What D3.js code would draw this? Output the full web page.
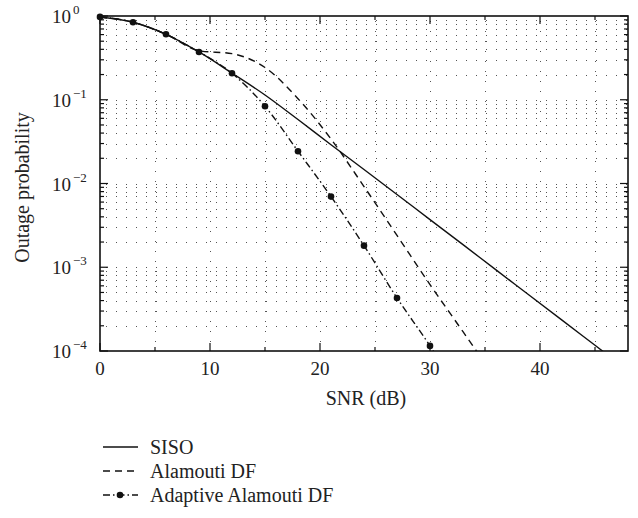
<!DOCTYPE html>
<html>
<head>
<meta charset="utf-8">
<script src="https://cdn.jsdelivr.net/npm/d3@7"></script>
<style>
  html, body { margin: 0; padding: 0; background: #fff; }
  svg { display: block; }
</style>
</head>
<body>
<svg id="chart" width="638" height="518"></svg>
<script>
// ---- data ----
const snrSISO = [0, 3, 6, 9, 12, 15, 18, 21, 24, 27, 30, 33, 36, 39, 42, 45, 48];
const siso = [0.975, 0.843, 0.605, 0.372, 0.208, 0.114, 0.058, 0.029, 0.0147, 0.0074, 0.0037, 0.00186, 0.00093, 0.000467, 0.000234, 0.000117, 0.0000585];

const snrAlamouti = [0, 3, 6, 9, 12, 15, 18, 21, 24, 27, 30, 33, 36];
const alamouti = [0.975, 0.843, 0.605, 0.385, 0.355, 0.243, 0.103, 0.034, 0.0092, 0.0024, 0.00062, 0.00017, 0.000046];

const snrAdaptive = [0, 3, 6, 9, 12, 15, 18, 21, 24, 27, 30, 33];
const adaptive = [0.975, 0.843, 0.605, 0.372, 0.207, 0.0835, 0.0243, 0.00698, 0.00181, 0.00043, 0.000115, 0.000027];

const xMajorTicks = [0, 10, 20, 30, 40];
const xMinorTicks = [5, 15, 25, 35, 45];
const yDecades = [1, 1e-1, 1e-2, 1e-3, 1e-4];
const yExponents = ["0", "\u22121", "\u22122", "\u22123", "\u22124"];
const legendLabels = ["SISO", "Alamouti DF", "Adaptive Alamouti DF"];

// ---- layout ----
const FONT = "'Liberation Serif', 'DejaVu Serif', serif";
const L = 100, R = 628, T = 16, B = 351;
const svg = d3.select("#chart").attr("font-family", FONT);
const x = d3.scaleLinear().domain([0, 48]).range([L, R]);
const y = d3.scaleLog().domain([1e-4, 1]).range([B, T]);

// minor y values
const yMinor = [];
for (let e = -4; e < 0; e++) for (let m = 2; m <= 9; m++) yMinor.push(m * Math.pow(10, e));

// grid
const grid = svg.append("g").attr("stroke", "#555").attr("stroke-width", 1)
  .attr("stroke-dasharray", "1,9");
grid.selectAll("line.h").data(yMinor.concat(yDecades.slice(1, 4))).join("line")
  .attr("x1", L + 6).attr("x2", R)
  .attr("y1", d => Math.round(y(d)) + 0.5).attr("y2", d => Math.round(y(d)) + 0.5);
grid.selectAll("line.v").data(xMajorTicks.concat(xMinorTicks).filter(d => d > 0)).join("line")
  .attr("y1", T + 5).attr("y2", B)
  .attr("x1", d => Math.round(x(d)) + 0.5).attr("x2", d => Math.round(x(d)) + 0.5);

// ticks (inward) on all four sides
const tk = svg.append("g").attr("stroke", "#111").attr("stroke-width", 1.2);
xMajorTicks.forEach(v => {
  const px = x(v);
  tk.append("line").attr("x1", px).attr("x2", px).attr("y1", B).attr("y2", B - 8);
  tk.append("line").attr("x1", px).attr("x2", px).attr("y1", T).attr("y2", T + 8);
});
xMinorTicks.forEach(v => {
  const px = x(v);
  tk.append("line").attr("x1", px).attr("x2", px).attr("y1", B).attr("y2", B - 4);
  tk.append("line").attr("x1", px).attr("x2", px).attr("y1", T).attr("y2", T + 4);
});
yDecades.forEach(v => {
  const py = y(v);
  tk.append("line").attr("x1", L).attr("x2", L + 8).attr("y1", py).attr("y2", py);
  tk.append("line").attr("x1", R).attr("x2", R - 8).attr("y1", py).attr("y2", py);
});
yMinor.forEach(v => {
  const py = y(v);
  tk.append("line").attr("x1", L).attr("x2", L + 4).attr("y1", py).attr("y2", py);
  tk.append("line").attr("x1", R).attr("x2", R - 4).attr("y1", py).attr("y2", py);
});

// frame
svg.append("rect").attr("x", L).attr("y", T).attr("width", R - L).attr("height", B - T)
  .attr("fill", "none").attr("stroke", "#111").attr("stroke-width", 1.6);

// tick labels
svg.append("g").selectAll("text").data(xMajorTicks).join("text")
  .attr("x", d => x(d)).attr("y", B + 24).attr("text-anchor", "middle")
  .attr("font-family", FONT).attr("fill", "#222").attr("font-size", 19).text(d => d);

const yl = svg.append("g").selectAll("text").data(yDecades).join("text")
  .attr("x", 52).attr("y", d => y(d) + 7).attr("font-family", FONT)
  .attr("fill", "#222").attr("font-size", 19);
yl.append("tspan").text("10");
yl.append("tspan").attr("dy", -9).attr("dx", 2).attr("font-size", 13).text((d, i) => yExponents[i]);

// axis titles
svg.append("text").attr("x", 366).attr("y", 405).attr("text-anchor", "middle")
  .attr("font-family", FONT).attr("fill", "#222").attr("font-size", 20).text("SNR (dB)");
svg.append("text").attr("transform", "translate(29," + ((T + B) / 2 + 4) + ") rotate(-90)")
  .attr("text-anchor", "middle").attr("font-family", FONT).attr("fill", "#222")
  .attr("font-size", 20).text("Outage probability");

// curves
svg.append("clipPath").attr("id", "clip").append("rect")
  .attr("x", L).attr("y", T - 1).attr("width", R - L).attr("height", B - T + 1);

const line = d3.line().x(d => x(d[0])).y(d => y(d[1])).curve(d3.curveMonotoneX);
const series = [
  { xs: snrSISO, ys: siso, dash: null, markers: false },
  { xs: snrAlamouti, ys: alamouti, dash: "7,5", markers: false },
  { xs: snrAdaptive, ys: adaptive, dash: "7,3,1.5,3", markers: true }
];
const plot = svg.append("g").attr("clip-path", "url(#clip)");
series.forEach(s => {
  const pts = s.xs.map((v, i) => [v, s.ys[i]]);
  plot.append("path").datum(pts).attr("d", line)
    .attr("fill", "none").attr("stroke", "#111").attr("stroke-width", 1.4)
    .attr("stroke-dasharray", s.dash);
  if (s.markers) {
    svg.append("g").selectAll("circle").data(pts.filter(p => p[1] >= 1e-4)).join("circle")
      .attr("cx", p => x(p[0])).attr("cy", p => y(p[1])).attr("r", 3.3).attr("fill", "#111");
  }
});

// legend
const legY = [447, 471, 495];
series.forEach((s, i) => {
  svg.append("line").attr("x1", 103).attr("x2", 138).attr("y1", legY[i]).attr("y2", legY[i])
    .attr("stroke", "#111").attr("stroke-width", 1.4).attr("stroke-dasharray", s.dash);
  if (s.markers) svg.append("circle").attr("cx", 120).attr("cy", legY[i]).attr("r", 3.3).attr("fill", "#111");
  svg.append("text").attr("x", 150).attr("y", legY[i] + 7).attr("font-family", FONT)
    .attr("fill", "#222").attr("font-size", 20).text(legendLabels[i]);
});
</script>
</body>
</html>
